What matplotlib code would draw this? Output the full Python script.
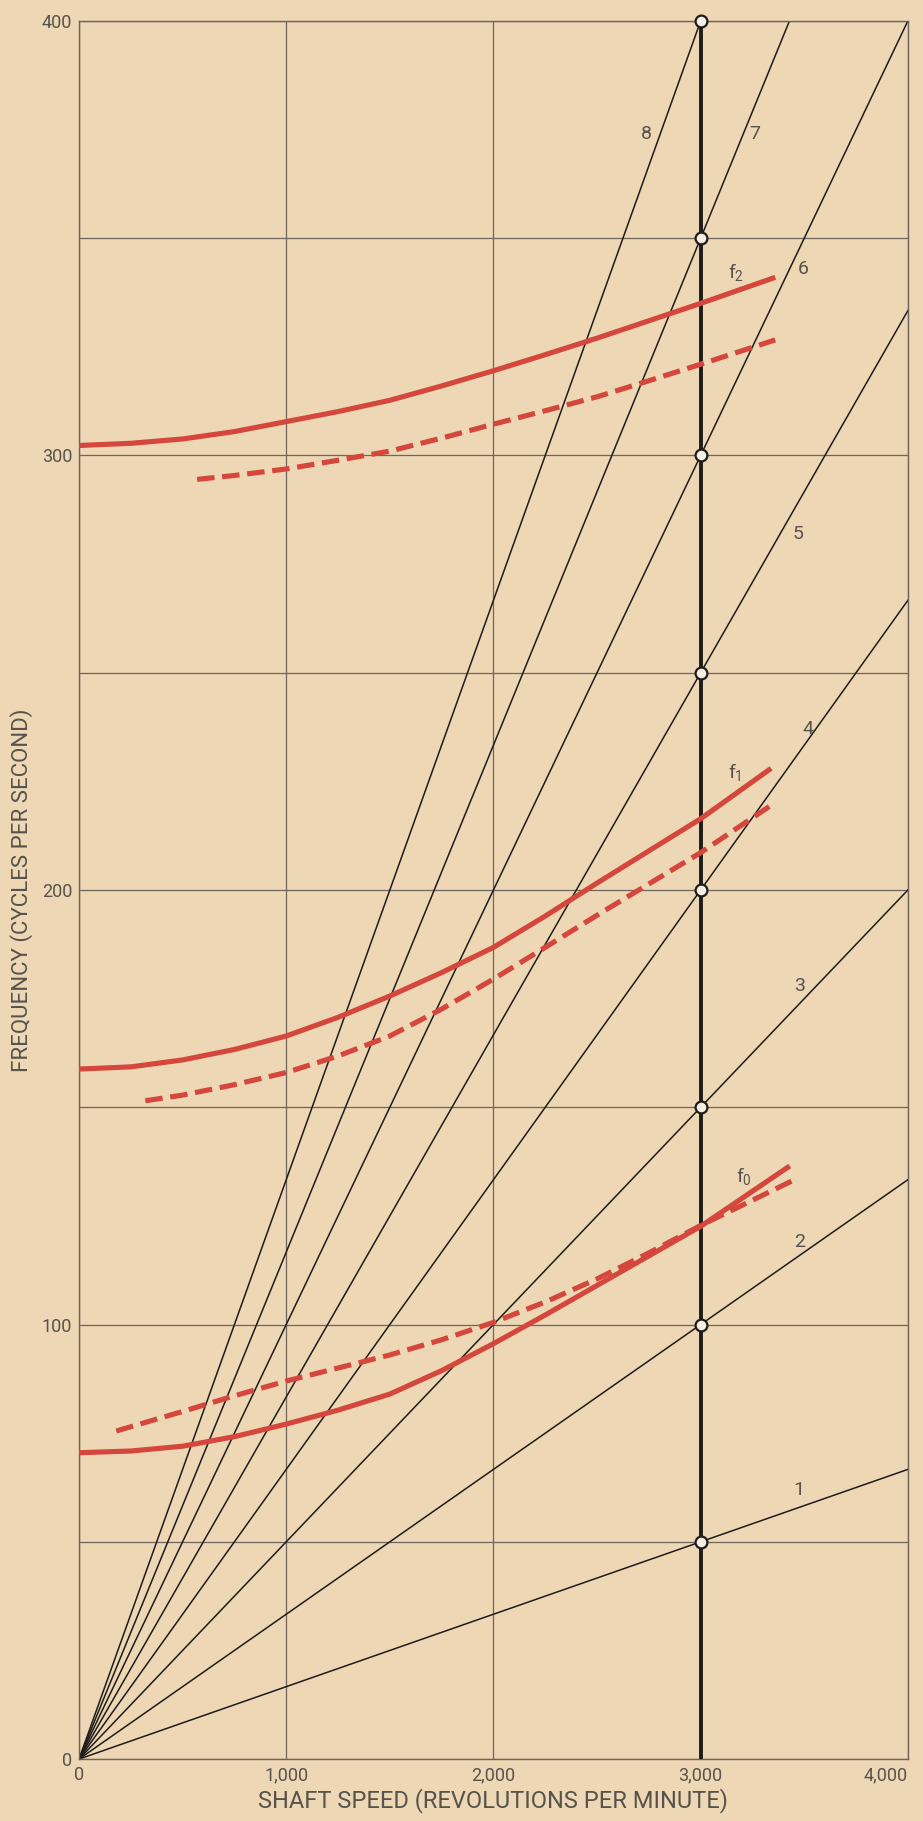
import numpy as np
import matplotlib.pyplot as plt
from matplotlib.ticker import MultipleLocator, FuncFormatter

# shaft speed orders (lines through the origin)
orders = [1, 2, 3, 4, 5, 6, 7, 8]
order_label_pos = {
  1: (3473, 62), 2: (3478, 119), 3: (3475, 178), 4: (3517, 237),
  5: (3468, 282), 6: (3493, 343), 7: (3261, 374), 8: (2738, 374),
}

# natural frequency curves (rpm, cps)
f2_rpm = [0, 250, 500, 750, 1000, 1250, 1500, 1750, 2000, 2250, 2500, 2750, 3000, 3360]
f2_solid = [302.3, 302.8, 303.8, 305.5, 307.8, 310.1, 312.7, 316.0, 319.5, 323.2, 327.0, 331.0, 335.0, 341.0]
f2d_rpm = [570, 750, 1000, 1250, 1500, 1750, 2000, 2250, 2500, 2750, 3000, 3360]
f2_dashed = [294.5, 295.4, 296.9, 298.9, 301.0, 304.0, 307.2, 310.3, 313.5, 317.2, 321.0, 326.6]

f1_rpm = [0, 250, 500, 750, 1000, 1250, 1500, 1750, 2000, 2250, 2500, 2750, 3000, 3340]
f1_solid = [158.8, 159.3, 160.9, 163.3, 166.4, 170.7, 175.6, 181.0, 186.8, 194.0, 201.6, 209.0, 216.4, 228.0]
f1d_rpm = [320, 500, 750, 1000, 1250, 1500, 1750, 2000, 2250, 2500, 2750, 3000, 3340]
f1_dashed = [151.5, 152.8, 155.2, 158.0, 161.8, 166.4, 172.6, 179.5, 186.8, 194.2, 201.4, 208.6, 219.5]

f0_rpm = [0, 250, 500, 750, 1000, 1250, 1500, 1750, 2000, 2250, 2500, 2750, 3000, 3430]
f0_solid = [70.5, 70.9, 72.0, 74.2, 77.1, 80.3, 84.0, 89.4, 95.6, 102.2, 109.0, 115.8, 122.6, 136.5]
f0d_rpm = [180, 500, 750, 1000, 1250, 1500, 1750, 2000, 2250, 2500, 2750, 3000, 3460]
f0_dashed = [75.5, 80.0, 83.6, 87.0, 90.0, 93.0, 96.5, 100.5, 105.2, 110.5, 116.5, 122.8, 133.5]

curve_labels = [("2", 3172, 342), ("1", 3167, 227), ("0", 3208, 134)]

x_ticks = [0, 1000, 2000, 3000, 4000]
operating_rpm = 3000
marker_freqs = [50, 100, 150, 200, 250, 300, 350, 400]

PAPER = '#eed7b5'
INK = '#1e1c1a'
GRIDC = '#6e665c'
RED = '#d5463c'
TEXTC = '#57524b'


def main():
  plt.rcParams['font.family'] = ['Roboto', 'DejaVu Sans']

  fig = plt.figure(figsize=(9.23, 18.21), dpi=100, facecolor=PAPER)
  ax = fig.add_axes([0.0856, 0.034, 0.898, 0.9545])
  ax.set_facecolor(PAPER)

  ax.set_xlim(0, 4000)
  ax.set_ylim(0, 400)

  # grid
  ax.set_xticks(x_ticks, labels=[f'{v:,}' for v in x_ticks])
  ax.yaxis.set_major_locator(MultipleLocator(100))
  ax.yaxis.set_minor_locator(MultipleLocator(50))
  ax.yaxis.set_major_formatter(FuncFormatter(lambda v, p: f'{int(v)}'))
  ax.grid(True, which='both', color=GRIDC, lw=0.9, zorder=1)
  ax.tick_params(which='both', length=0, pad=5, labelsize=13, labelcolor=TEXTC)
  ax.get_xticklabels()[-1].set_horizontalalignment('right')
  for s in ax.spines.values():
    s.set_color(GRIDC)
    s.set_linewidth(1.0)

  # order lines
  rpm = np.array([0, 4000])
  for n in orders:
    ax.plot(rpm, n * rpm / 60.0, color=INK, lw=1.1, zorder=2)
    lx, ly = order_label_pos[n]
    ax.text(lx, ly, str(n), fontsize=14, color=TEXTC, ha='center', va='center', zorder=5)

  # operating speed
  ax.axvline(operating_rpm, color=INK, lw=2.8, zorder=3)

  # red curves
  dash = (0, (3.4, 1.5))
  ax.plot(f2_rpm, f2_solid, color=RED, lw=3.7, solid_capstyle='butt', zorder=4)
  ax.plot(f2d_rpm, f2_dashed, color=RED, lw=3.7, ls=dash, zorder=4)
  ax.plot(f1_rpm, f1_solid, color=RED, lw=3.7, solid_capstyle='butt', zorder=4)
  ax.plot(f1d_rpm, f1_dashed, color=RED, lw=3.7, ls=dash, zorder=4)
  ax.plot(f0_rpm, f0_solid, color=RED, lw=3.7, solid_capstyle='butt', zorder=4)
  ax.plot(f0d_rpm, f0_dashed, color=RED, lw=3.7, ls=dash, zorder=4)
  for sub, lx, ly in curve_labels:
    ax.text(lx, ly, r'f$_\mathregular{' + sub + '}$', fontsize=14, color=TEXTC,
      ha='center', va='center', zorder=5)

  # intersections
  ax.plot([operating_rpm] * len(marker_freqs), marker_freqs, 'o', ms=8.5,
    mfc='#f6efe4', mec=INK, mew=1.6, zorder=6, clip_on=False)

  ax.set_xlabel('SHAFT SPEED (REVOLUTIONS PER MINUTE)', fontsize=17, color=TEXTC, labelpad=3)
  ax.set_ylabel('FREQUENCY (CYCLES PER SECOND)', fontsize=16, color=TEXTC, labelpad=6)

  fig.savefig('out.png', dpi=100, facecolor=PAPER)


if __name__ == "__main__":
  main()
